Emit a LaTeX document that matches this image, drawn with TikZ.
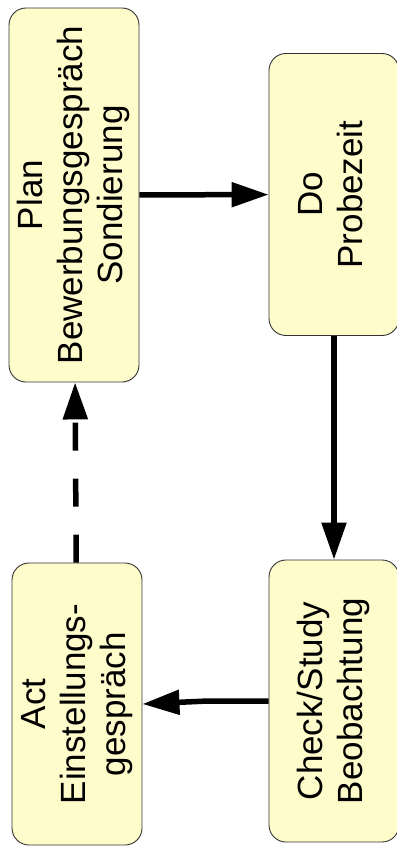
\documentclass[tikz,border=0pt]{standalone}
\usepackage{fontspec}
\setmainfont{Liberation Sans}
\usetikzlibrary{arrows.meta}
\tikzset{
  phase/.style={
    draw=black!80,
    line width=0.9pt,
    fill=yellow!20,
    rounded corners=17pt,
    minimum width=130pt,
    minimum height=282pt,
    inner sep=0pt,
    font=\fontsize{35}{40}\selectfont
  },
  flow/.style={
    line width=5.5pt,
    -{Triangle[length=37pt,width=24pt]}
  },
  flowdash/.style={
    flow,
    dash pattern=on 28pt off 28pt
  }
}
\newcommand\vlines[1]{\rotatebox{90}{\begin{tabular}{@{}c@{}}#1\end{tabular}}}
\begin{document}
\begin{tikzpicture}[x=1pt, y=-1pt]
\useasboundingbox (0,0) rectangle (396,856);
\newcommand\XLeft{75}
\newcommand\XRight{334}
\node[phase, minimum height=374pt] (plan) at (\XLeft-1,195) {\vlines{Plan\\Bewerbungsgespräch\\Sondierung}};
\node[phase] (do) at (\XRight,194.5) {\vlines{Do\\Probezeit}};
\node[phase] (chk) at (\XRight,701) {\vlines{Check/Study\\Beobachtung}};
\node[phase] (act) at (\XLeft+2,704) {\vlines{Act\\Einstellungs-\\gespräch}};

\path (plan) edge[flow] (do)
      (do) edge[flow] (chk);
\draw[flow] (chk.west) -- ++(-61,0) -- (act.east);
\path (act) edge[flowdash] (plan);
\end{tikzpicture}
\end{document}
